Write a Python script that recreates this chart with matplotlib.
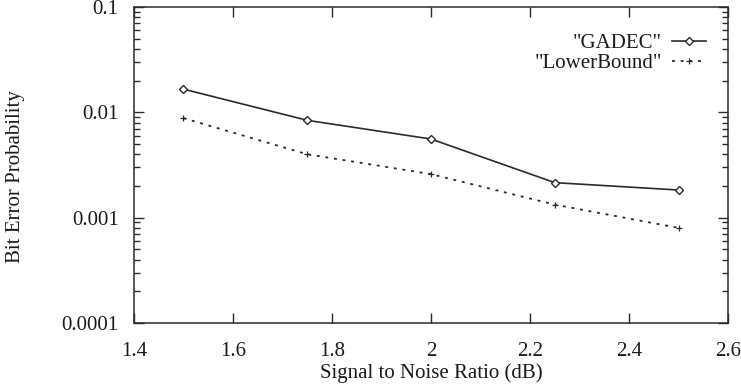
import numpy as np
import matplotlib.pyplot as plt
from matplotlib import ticker

plt.rcParams['font.family'] = ['Liberation Serif', 'DejaVu Serif']

snr = [1.5, 1.75, 2.0, 2.25, 2.5]
gadec = [0.0166, 0.0084, 0.00558, 0.00215, 0.00183]
lower_bound = [0.0088, 0.0040, 0.00259, 0.00133, 0.00080]

x_ticks = [1.4, 1.6, 1.8, 2.0, 2.2, 2.4, 2.6]
x_labels = ['1.4', '1.6', '1.8', '2', '2.2', '2.4', '2.6']
y_ticks = [0.0001, 0.001, 0.01, 0.1]
y_labels = ['0.0001', '0.001', '0.01', '0.1']

ink = '#2a2a2a'
fs = 15

fig = plt.figure(figsize=(7.41, 3.87), dpi=100)
ax = fig.add_axes([0.1808, 0.1654, 0.8017, 0.8165])

ax.plot(snr, gadec, color=ink, lw=1.2, marker='D', markersize=4.5,
        markerfacecolor='white', markeredgecolor=ink, markeredgewidth=1.0,
        label='"GADEC"')
ax.plot(snr, lower_bound, color=ink, lw=1.3, linestyle=(0, (1.6, 3.2)),
        marker='+', markersize=5, markeredgewidth=0.9,
        label='"LowerBound"')

ax.set_yscale('log')
ax.set_xlim(1.4, 2.6)
ax.set_ylim(0.0001, 0.1)
ax.set_xticks(x_ticks)
ax.set_xticklabels(x_labels)
ax.set_yticks(y_ticks)
ax.set_yticklabels(y_labels)
ax.yaxis.set_minor_locator(ticker.LogLocator(base=10, subs=np.arange(2, 10)))
ax.yaxis.set_minor_formatter(ticker.NullFormatter())

ax.tick_params(which='both', direction='in', top=True, right=True,
               colors=ink, labelcolor='#1a1a1a', labelsize=fs, width=1.0)
ax.tick_params(which='major', length=7)
ax.tick_params(which='minor', length=4)
ax.tick_params(axis='x', which='major', pad=14)
ax.tick_params(axis='y', which='major', pad=11)
for s in ax.spines.values():
    s.set_color(ink)
    s.set_linewidth(1.1)

ax.set_xlabel('Signal to Noise Ratio (dB)', fontsize=fs, color='#1a1a1a',
              labelpad=1)
ax.set_ylabel('Bit Error Probability', fontsize=fs, color='#1a1a1a',
              labelpad=26, y=0.462)

leg = ax.legend(loc='upper right', bbox_to_anchor=(0.98, 0.95),
                frameon=False, markerfirst=False, fontsize=fs,
                handlelength=1.6, handletextpad=0.5, labelspacing=0.05,
                borderpad=0.0)
for t in leg.get_texts():
    t.set_color('#1a1a1a')

plt.savefig('out.png', dpi=100)
